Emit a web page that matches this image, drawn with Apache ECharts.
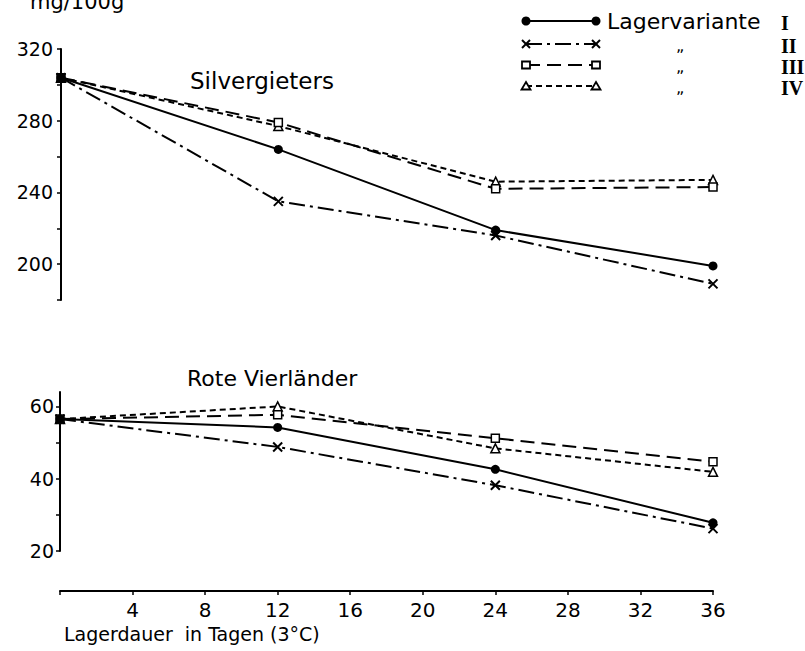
<!DOCTYPE html>
<html>
  <head>
    <meta charset="utf-8" />
    <title>Lagervarianten</title>
    <script src="https://cdn.jsdelivr.net/npm/echarts@6/dist/echarts.min.js"></script>
  </head>
  <body style="margin: 0">
    <div id="chart" style="width: 805px; height: 651px"></div>

    <script>
      // Lagerdauer in Tagen (3°C)
      const days = [0, 12, 24, 36];
      const variants = ['I', 'II', 'III', 'IV'];

      // mg/100g, one row per Lagervariante I..IV
      const silvergieters = [
        [304, 264, 219, 199],
        [304, 235, 216, 189],
        [304, 279, 242, 243],
        [304, 277, 246, 247],
      ];
      const roteVierlaender = [
        [56.5, 54.2, 42.6, 27.8],
        [56.5, 48.8, 38.2, 26.2],
        [56.5, 57.7, 51.2, 44.7],
        [56.5, 60.0, 48.4, 41.9],
      ];

      const font = 'DejaVu Sans';

      // line look per variant
      const dashes = ['solid', [16, 5, 3, 5], [14, 7], [6, 4]];
      const symbols = ['circle', 'path://M0,0L10,10M10,0L0,10', 'rect', 'triangle'];
      const symbolSizes = [9, 9, 8, 9];

      function itemStyleFor(i) {
        if (i === 0) return { color: '#000' };
        if (i === 1) return { color: '#000', borderColor: '#000', borderWidth: 2 };
        return { color: '#fff', borderColor: '#000', borderWidth: 1.5 };
      }

      function makeSeries(rows, axisIdx) {
        let out = [];
        for (let i = rows.length - 1; i >= 0; i--) {
          out.push({
            name: 'Lagervariante ' + variants[i],
            type: 'line',
            xAxisIndex: axisIdx,
            yAxisIndex: axisIdx,
            data: days.map((d, k) => [d, rows[i][k]]),
            symbol: symbols[i],
            symbolSize: symbolSizes[i],
            showAllSymbol: true,
            z: 10 - i,
            lineStyle: { color: '#000', width: 2, type: dashes[i] },
            itemStyle: itemStyleFor(i),
            emphasis: { disabled: true },
          });
        }
        return out;
      }

      // legend drawn by hand: marker at both ends of the line sample
      function marker(i, x, y) {
        if (i === 0) {
          return { type: 'circle', shape: { cx: x, cy: y, r: 4.5 }, style: { fill: '#000' } };
        }
        if (i === 1) {
          return {
            type: 'group',
            children: [
              { type: 'line', shape: { x1: x - 4, y1: y - 4, x2: x + 4, y2: y + 4 }, style: { stroke: '#000', lineWidth: 2 } },
              { type: 'line', shape: { x1: x - 4, y1: y + 4, x2: x + 4, y2: y - 4 }, style: { stroke: '#000', lineWidth: 2 } },
            ],
          };
        }
        if (i === 2) {
          return { type: 'rect', shape: { x: x - 4, y: y - 3.5, width: 8, height: 7 }, style: { fill: '#fff', stroke: '#000', lineWidth: 1.8 } };
        }
        return {
          type: 'polygon',
          shape: { points: [[x, y - 4], [x + 4.5, y + 3.5], [x - 4.5, y + 3.5]] },
          style: { fill: '#fff', stroke: '#000', lineWidth: 1.8 },
        };
      }

      const legendRows = [21, 44, 65, 86];
      let legend = [];
      variants.forEach((v, i) => {
        const y = legendRows[i];
        legend.push({
          type: 'line',
          shape: { x1: 526, y1: y, x2: 596, y2: y },
          style: { stroke: '#000', lineWidth: 2, lineDash: dashes[i] === 'solid' ? null : dashes[i] },
        });
        legend.push(marker(i, 526, y), marker(i, 596, y));
        legend.push({
          type: 'text',
          x: i === 0 ? 607 : 676,
          y: i === 0 ? y : y + 1,
          style: {
            text: i === 0 ? 'Lagervariante' : '\u201E',
            font: (i === 0 ? '22px ' : '16px ') + font,
            fill: '#000',
            verticalAlign: 'middle',
          },
        });
        legend.push({
          type: 'text',
          x: 781,
          y: y + 2,
          style: {
            text: v,
            font: 'bold 20px "Liberation Serif", serif',
            fill: '#000',
            verticalAlign: 'middle',
          },
        });
      });

      let dom = document.getElementById('chart');
      let myChart = echarts.init(dom, null, { renderer: 'svg', width: 805, height: 651 });

      const yAxisCommon = {
        type: 'value',
        axisLine: { show: true, lineStyle: { color: '#000', width: 2 } },
        axisTick: { show: true, length: 4, lineStyle: { color: '#000', width: 1.5 } },
        splitLine: { show: false },
      };

      let opts = {
        animation: false,
        backgroundColor: '#fff',
        textStyle: { fontFamily: font, color: '#000' },
        grid: [
          { left: 61, width: 652, top: 49, height: 251 },
          { left: 60, width: 653, top: 392, height: 159 },
        ],
        xAxis: [
          { gridIndex: 0, type: 'value', min: 0, max: 36, show: false },
          {
            gridIndex: 1,
            type: 'value',
            min: 0,
            max: 36,
            interval: 4,
            offset: 40,
            axisLine: { show: true, lineStyle: { color: '#000', width: 2 } },
            axisTick: { show: true, length: 4, lineStyle: { color: '#000', width: 1.5 } },
            axisLabel: {
              formatter: (v) => (v === 0 ? '' : v),
              color: '#000',
              fontFamily: font,
              fontSize: 20,
              margin: 9,
            },
            splitLine: { show: false },
          },
        ],
        yAxis: [
          Object.assign({}, yAxisCommon, {
            gridIndex: 0,
            min: 180,
            max: 320,
            interval: 20,
            axisLabel: {
              formatter: (v) => (v % 40 === 0 ? v : ''),
              color: '#000',
              fontFamily: font,
              fontSize: 19,
              margin: 8,
            },
          }),
          Object.assign({}, yAxisCommon, {
            gridIndex: 1,
            min: 20,
            max: 64,
            interval: 10,
            axisLabel: {
              formatter: (v) => (v % 20 === 0 && v <= 60 ? v : ''),
              showMaxLabel: false,
              color: '#000',
              fontFamily: font,
              fontSize: 19,
              margin: 6,
            },
          }),
        ],
        graphic: [
          {
            type: 'text',
            x: 30,
            y: 12,
            style: { text: 'mg/100g', font: '21px ' + font, fill: '#000', verticalAlign: 'bottom' },
          },
          {
            type: 'text',
            x: 190,
            y: 81,
            style: { text: 'Silvergieters', font: '23px ' + font, fill: '#000', verticalAlign: 'middle' },
          },
          {
            type: 'text',
            x: 187,
            y: 378,
            style: { text: 'Rote Vierländer', font: '22px ' + font, fill: '#000', verticalAlign: 'middle' },
          },
          {
            type: 'text',
            x: 64,
            y: 634,
            style: { text: 'Lagerdauer  in Tagen (3°C)', font: '19px ' + font, fill: '#000', verticalAlign: 'middle' },
          },
        ].concat(legend),
        series: makeSeries(silvergieters, 0).concat(makeSeries(roteVierlaender, 1)),
      };

      myChart.setOption(opts, { notMerge: true });
    </script>
  </body>
</html>
